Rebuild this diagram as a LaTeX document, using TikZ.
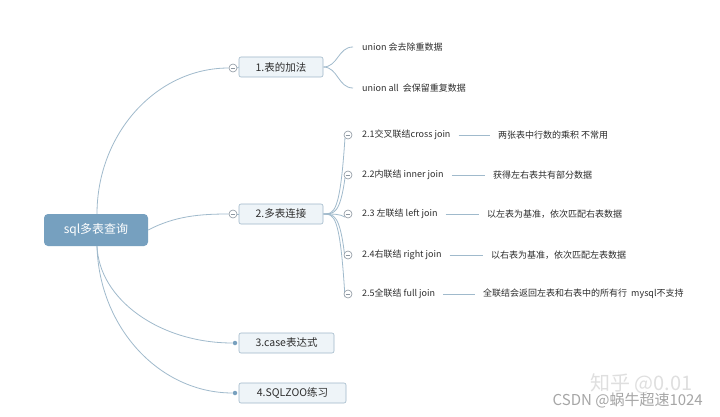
\documentclass[tikz,border=0pt]{standalone}
\usepackage{fontspec}
\setmainfont{Noto Sans CJK SC}
\usetikzlibrary{backgrounds}
\definecolor{linec}{RGB}{160,186,204}
\definecolor{boxb}{RGB}{160,184,202}
\definecolor{boxf}{RGB}{238,244,248}
\definecolor{txt}{RGB}{45,45,45}
\definecolor{rootc}{RGB}{118,160,191}
\definecolor{circb}{RGB}{140,150,160}
\definecolor{dotc}{RGB}{120,160,190}
\begin{document}
\begin{tikzpicture}[x=1pt,y=-1pt,
  conn/.style={draw=linec, line width=0.8pt},
  rootbox/.style={fill=rootc, rounded corners=4pt, text=white, font=\fontsize{12}{14}\selectfont, minimum width=104pt, minimum height=32pt, inner sep=0pt},
  topic/.style={draw=boxb, fill=boxf, rounded corners=2pt, line width=0.6pt, font=\fontsize{10.5}{12}\selectfont, text=txt, minimum height=20pt, inner sep=0pt},
  leaf/.style={font=\fontsize{9}{11}\selectfont, text=txt, inner sep=0pt, anchor=west},
  collapse/.style={circle, draw=circb, fill=white, minimum size=8pt, inner sep=0pt, line width=0.6pt,
    path picture={\draw[circb, line width=0.6pt] ([xshift=-2.3pt]path picture bounding box.center) -- ([xshift=2.3pt]path picture bounding box.center);}},
  dotn/.style={circle, fill=dotc, minimum size=4.5pt, inner sep=0pt},
  wmark/.style={inner sep=0pt}
]
\useasboundingbox (0,0) rectangle (720,417);

% root
\node[rootbox] (root) at (96,230) {sql多表查询};
\coordinate (rt) at (97,214);
\coordinate (rb) at (97,246);

% main topics
\node[collapse] (c1) at (233,68) {};
\node[collapse] (c2) at (233,214) {};
\node[dotn] (c3) at (235,343) {};
\node[dotn] (c4) at (235,393) {};
\node[topic, minimum width=84pt] (b1) at (281,67) {1.表的加法};
\node[topic, minimum width=84pt] (b2) at (281,214) {2.多表连接};
\node[topic, minimum width=95pt] (b3) at (286.5,343) {3.case表达式};
\node[topic, minimum width=107pt] (b4) at (292.5,393) {4.SQLZOO练习};

% branch 1 leaves
\node[leaf] (u1) at (362,47) {union 会去除重数据};
\node[leaf] (u2) at (362,88) {union all\ \ 会保留重复数据};

% branch 2 sub-topics
\node[collapse] (k1) at (348,135) {};
\node[collapse] (k2) at (348,175) {};
\node[collapse] (k3) at (348,214) {};
\node[collapse] (k4) at (348,255) {};
\node[collapse] (k5) at (348,294) {};
\node[leaf] (l1) at (362,135) {2.1交叉联结cross join};
\node[leaf] (l2) at (362,175) {2.2内联结 inner join};
\node[leaf] (l3) at (362,214) {2.3 左联结 left join};
\node[leaf] (l4) at (362,255) {2.4右联结 right join};
\node[leaf] (l5) at (362,294) {2.5全联结 full join};
\node[leaf] (d1) at (498,135) {两张表中行数的乘积 不常用};
\node[leaf] (d2) at (493,175) {获得左右表共有部分数据};
\node[leaf] (d3) at (487,214) {以左表为基准，依次匹配右表数据};
\node[leaf] (d4) at (491,255) {以右表为基准，依次匹配左表数据};
\node[leaf] (d5) at (483,294) {全联结会返回左表和右表中的所有行\ \ mysql不支持};

% watermarks
\node[wmark, anchor=west, font=\fontsize{20}{22}\selectfont, text=gray!25] (wz) at (590,384) {知乎 @0.01};
\node[wmark, anchor=east, font=\fontsize{15}{18}\selectfont, text=gray!70] (wc) at (703,400) {CSDN @蜗牛超速1024};

\begin{scope}[on background layer]
  \fill[white] (0,0) rectangle (720,417);
  \draw[conn] (rt) .. controls (97,134) and (156,68) .. (c1.west);
  \draw[conn] (root.east) .. controls (175,216) and (200,214) .. (c2.west);
  \draw[conn] (rb) .. controls (99,299) and (159,343) .. (c3.west);
  \draw[conn] (rb) .. controls (99,327) and (159,393) .. (c4.west);
  \draw[conn] (c1.east) -- (b1.west);
  \draw[conn] (c2.east) -- (b2.west);
  \draw[conn] (b1.east) .. controls (338,67) and (338,47) .. ([xshift=-9pt]u1.west);
  \draw[conn] (b1.east) .. controls (338,67) and (338,88) .. ([xshift=-9pt]u2.west);
  \foreach \i in {1,...,5} {
    \draw[conn] (b2.east) .. controls (334,214) and (340,214) .. (k\i.south west);
    \draw[conn] ([xshift=8pt]l\i.east) -- ([xshift=-8pt]d\i.west);
  }
\end{scope}
\end{tikzpicture}
\end{document}
